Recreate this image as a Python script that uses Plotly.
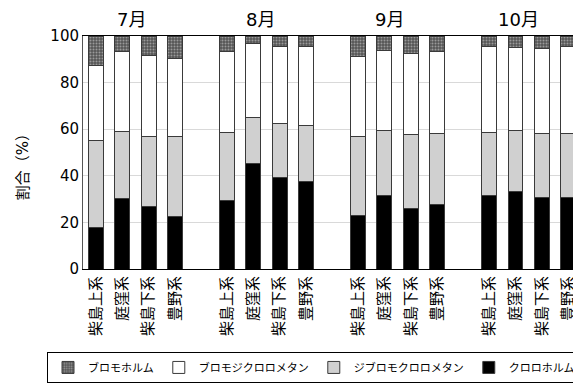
import plotly.graph_objects as go

months = ["7月", "8月", "9月", "10月"]
sites = ["柴島上系", "庭窪系", "柴島下系", "豊野系"]

# values per bar, ordered month by month, site by site (%)
chloroform = [17.8, 30.2, 27.0, 22.4,
              29.2, 45.1, 39.2, 37.5,
              22.8, 31.4, 25.8, 27.5,
              31.7, 33.2, 30.5, 30.5]
dibromochloromethane = [37.5, 29.0, 29.8, 34.4,
                        29.3, 19.9, 23.3, 24.3,
                        34.0, 28.2, 32.0, 30.8,
                        26.9, 26.4, 27.8, 27.7]
bromodichloromethane = [32.0, 34.2, 34.8, 33.5,
                        34.7, 31.6, 33.1, 33.6,
                        34.6, 34.1, 34.6, 35.1,
                        37.0, 35.4, 36.3, 37.2]
bromoform = [12.7, 6.6, 8.4, 9.7,
             6.8, 3.4, 4.4, 4.6,
             8.6, 6.3, 7.6, 6.6,
             4.4, 5.0, 5.4, 4.6]

# x positions: 4 bars per month with one empty slot between months
xpos = []
ticktext = []
for g in range(len(months)):
    for i, s in enumerate(sites):
        xpos.append(g * (len(sites) + 1) + i)
        ticktext.append(s)

FONT = "DejaVu Sans, Noto Sans CJK JP, sans-serif"
LINE = dict(color="#3a3a3a", width=1)
W = 0.57

fig = go.Figure()
fig.add_trace(go.Bar(x=xpos, y=chloroform, name="クロロホルム", width=W,
                     marker=dict(color="#000000", line=LINE)))
fig.add_trace(go.Bar(x=xpos, y=dibromochloromethane, name="ジブロモクロロメタン", width=W,
                     marker=dict(color="#d0d0d0", line=LINE)))
fig.add_trace(go.Bar(x=xpos, y=bromodichloromethane, name="ブロモジクロロメタン", width=W,
                     marker=dict(color="#ffffff", line=LINE)))
fig.add_trace(go.Bar(x=xpos, y=bromoform, name="ブロモホルム", width=W,
                     marker=dict(color="#666666", line=LINE,
                                 pattern=dict(shape=".", fgcolor="#e0e0e0", bgcolor="#555555",
                                              size=3, solidity=0.35))))

annotations = []
shifts = [-4, -6, -8, -10]
for g, m in enumerate(months):
    annotations.append(dict(
        x=g * (len(sites) + 1) + (len(sites) - 1) / 2, xref="x", xanchor="center",
        y=1.0, yref="paper", yanchor="bottom", yshift=4, xshift=shifts[g],
        text=m, showarrow=False, font=dict(family=FONT, size=18, color="#000")))
annotations.append(dict(
    x=-0.12, xref="paper", xanchor="center", y=0.455, yref="paper", yanchor="middle",
    textangle=-90, text="割合（%）", showarrow=False,
    font=dict(family=FONT, size=15, color="#000")))

fig.update_layout(
    width=573, height=375,
    margin=dict(l=75, r=0, t=28, b=114),
    paper_bgcolor="white", plot_bgcolor="white",
    barmode="stack",
    font=dict(family=FONT, color="#000"),
    annotations=annotations,
    showlegend=True,
    legend=dict(orientation="h", x=-0.028, xanchor="left", y=-0.356, yanchor="top",
                traceorder="reversed", bordercolor="#000", borderwidth=1,
                bgcolor="white", font=dict(family=FONT, size=11, color="#000"),
                itemwidth=30),
)
fig.update_xaxes(
    range=[-0.5, 18.5], tickmode="array", tickvals=xpos, ticktext=ticktext,
    tickangle=-90, tickfont=dict(family=FONT, size=15, color="#000"),
    showline=True, linecolor="#000", linewidth=1, mirror=True,
    showgrid=False, ticks="", zeroline=False,
)
fig.update_yaxes(
    range=[0, 100], tickvals=[0, 20, 40, 60, 80, 100],
    tickfont=dict(family=FONT, size=15, color="#000"),
    showline=True, linecolor="#555", linewidth=1,
    gridcolor="#d9d9d9", gridwidth=1, ticks="", zeroline=False,
)

fig.write_html("out.html")
